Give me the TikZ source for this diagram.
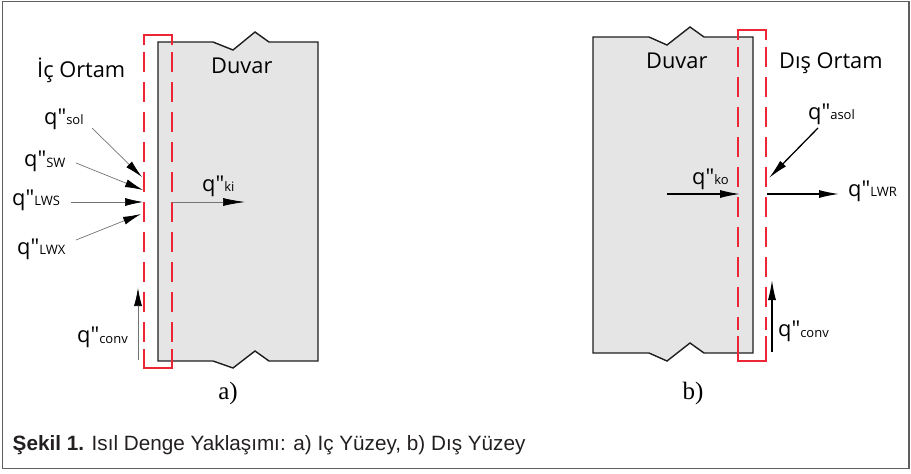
\documentclass[tikz,border=0pt]{standalone}
\usepackage{fontspec}
\setmainfont{Open Sans}[Ligatures=TeXOff]
\newfontfamily\capfont{Liberation Sans}
\newfontfamily\panelfont{Liberation Serif}
\usetikzlibrary{arrows.meta}

\definecolor{wallfill}{RGB}{229,229,229}
\definecolor{boxred}{RGB}{236,38,52}
\definecolor{framegray}{RGB}{95,95,95}
\definecolor{captext}{RGB}{35,31,32}

% heat flux symbol q" with a small lowered index
\newcommand{\flux}[1]{q"\raisebox{-0.8pt}{\fontsize{13}{13}\selectfont #1}}

\tikzset{
  lbl/.style={inner sep=0pt, anchor=base west, font=\fontsize{21.8}{26}\selectfont},
  wallshape/.style={fill=wallfill, draw=black!88, line width=1.4pt, line join=miter},
  cvsolid/.style={draw=boxred, line width=1.4pt},
  cvdash/.style={cvsolid, dash pattern=on 20pt off 10pt},
  fluxthin/.style={draw=black!55, line width=0.7pt,
    -{Latex[length=18pt,width=8pt,color=black]}},
  fluxbold/.style={draw=black, line width=1.3pt,
    -{Latex[length=20pt,width=8pt]}},
  panellbl/.style={inner sep=0pt, font=\panelfont\fontsize{25}{28}\selectfont},
}

\begin{document}
\begin{tikzpicture}[x=1pt, y=-1pt]
\useasboundingbox (0,0) rectangle (911,474);

% outer frame
\draw[framegray, line width=1.3pt] (2.5,1.5) rectangle (909,468.5);

% ---------------- a) inner surface ----------------
\draw[wallshape] (158,42) -- (213,42) -- (233,50) -- (255,32) -- (269,42)
  -- (318,42) -- (318,361) -- (269,361) -- (255,351) -- (233,368)
  -- (213,361) -- (158,361) -- cycle;

% control volume
\draw[cvsolid] (144,45) -- (144,35) -- (172,35) -- (172,45);
\draw[cvdash] (144,52) -- (144,342);
\draw[cvdash] (172,52) -- (172,342);
\draw[cvsolid] (144,349) -- (144,368) -- (172,368) -- (172,349);

\node[lbl] (icortam) at (37,77) {İç Ortam};
\node[lbl] (duvarA) at (211,73) {Duvar};

\node[lbl] (qsol) at (44,124) {\flux{sol}};
\node[lbl] (qsw)  at (24,166.5) {\flux{SW}};
\node[lbl] (qlws) at (12,205) {\flux{LWS}};
\node[lbl] (qlwx) at (17,254) {\flux{LWX}};
\node[lbl] (qconvA) at (77,342.5) {\flux{conv}};
\node[lbl] (qki) at (202,191) {\flux{ki}};

\coordinate (solS) at (92,128);  \coordinate (solE) at (142,177);
\coordinate (swS) at (76,163);   \coordinate (swE) at (143,190);
\coordinate (lwsS) at (71,202);  \coordinate (lwsE) at (143,202);
\coordinate (lwxS) at (76,240);  \coordinate (lwxE) at (141,214);
\coordinate (cvaS) at (138,360); \coordinate (cvaE) at (138,288);
\coordinate (kiS) at (172,202);  \coordinate (kiE) at (245,202);

\draw[fluxthin] (solS) -- (solE);
\draw[fluxthin] (swS) -- (swE);
\draw[fluxthin] (lwsS) -- (lwsE);
\draw[fluxthin] (lwxS) -- (lwxE);
\draw[fluxthin] (cvaS) -- (cvaE);
\draw[fluxthin, -{Latex[length=22pt,width=8pt,color=black]}] (kiS) -- (kiE);

\node[panellbl] (capA) at (228,393) {a)};

% ---------------- b) outer surface ----------------
\draw[wallshape] (593,37) -- (649,37) -- (667,45) -- (690,27) -- (704,37)
  -- (753,37) -- (753,353) -- (704,353) -- (690,343) -- (667,361)
  -- (649,353) -- (593,353) -- cycle;

\draw[cvsolid] (738,40) -- (738,30) -- (766,30) -- (766,40);
\draw[cvdash] (738,47) -- (738,330);
\draw[cvdash] (766,47) -- (766,330);
\draw[cvsolid] (738,336) -- (738,361) -- (766,361) -- (766,336);

\node[lbl] (duvarB) at (646,68) {Duvar};
\node[lbl] (disortam) at (779,68) {Dış Ortam};

\node[lbl] (qasol) at (808,119) {\flux{asol}};
\node[lbl] (qko) at (692,184) {\flux{ko}};
\node[lbl] (qlwr) at (848,196) {\flux{LWR}};
\node[lbl] (qconvB) at (778,336.5) {\flux{conv}};

\coordinate (asolS) at (818,128); \coordinate (asolE) at (769,178);
\coordinate (koS) at (667,194);   \coordinate (koE) at (740,194);
\coordinate (lwrS) at (767,194);  \coordinate (lwrE) at (839,194);
\coordinate (cvbS) at (772,352);  \coordinate (cvbE) at (772,280);

\draw[fluxbold] (asolS) -- (asolE);
\draw[fluxbold] (koS) -- (koE);
\draw[fluxbold] (lwrS) -- (lwrE);
\draw[fluxbold] (cvbS) -- (cvbE);

\node[panellbl] (capB) at (693,393) {b)};

% ---------------- caption ----------------
\node[inner sep=0pt, anchor=base west, text=captext,
      font=\capfont\fontsize{20.7}{24}\selectfont] (caption) at (12.5,450.5)
  {\textbf{Şekil 1.} Isıl Denge Yaklaşımı: a) Iç Yüzey, b) Dış Yüzey};
\end{tikzpicture}
\end{document}
